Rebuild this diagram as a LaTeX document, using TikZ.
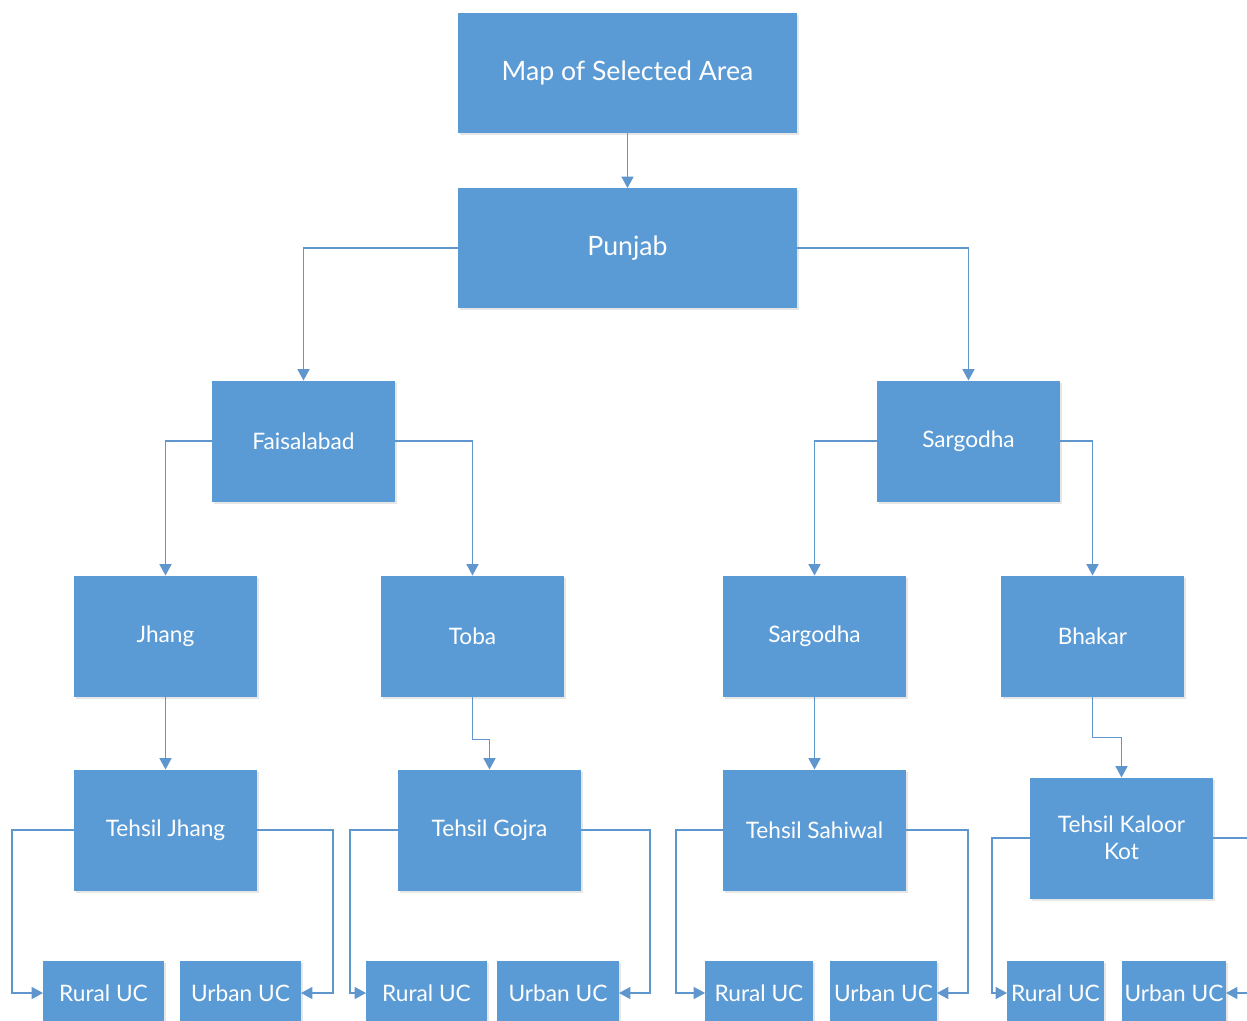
\documentclass[tikz,border=0pt]{standalone}
\usepackage{fontspec}
\setmainfont{Lato}
\usetikzlibrary{arrows.meta,shadows}

\definecolor{boxblue}{RGB}{91,155,213}
\definecolor{lineblue}{RGB}{95,150,205}

\tikzset{every picture/.style={line width=0.75pt}}

\begin{document}
\begin{tikzpicture}[x=0.75pt,y=0.75pt,yscale=-1,xscale=1,
  box/.style={fill=boxblue, text=white, inner sep=0pt, outer sep=0pt,
    align=center, font=\fontsize{17}{20}\selectfont,
    minimum width=137.25pt, minimum height=90.75pt,
    drop shadow={opacity=0.2, shadow xshift=1.5pt, shadow yshift=-1.5pt}},
  topbox/.style={box, minimum width=254.25pt, minimum height=90pt,
    font=\fontsize{20}{24}\selectfont},
  ucbox/.style={box, minimum height=48pt},
  link/.style={draw=lineblue, line width=1.1pt,
    -{Triangle[width=9pt,length=8.5pt]}}]
\useasboundingbox (0,0) rectangle (1247,1021);
\clip (0,0) rectangle (1247,1021);

% Top levels
\node[topbox] (map) at (627.5,73) {Map of Selected Area};
\node[topbox] (punjab) at (627.5,248) {Punjab};

% Divisions
\node[box] (fsd) at (303.5,441) {Faisalabad};
\node[box] (sgd) at (968.5,441) {Sargodha};

% Districts
\node[box] (jhang) at (165.5,636) {Jhang};
\node[box] (toba) at (472.5,636) {Toba};
\node[box] (sgdb) at (814.5,636) {Sargodha};
\node[box] (bhakar) at (1092.5,636) {Bhakar};

% Tehsils
\node[box] (tjhang) at (165.5,830) {Tehsil Jhang};
\node[box] (tgojra) at (489.5,830) {Tehsil Gojra};
\node[box] (tsahiwal) at (814.5,830) {Tehsil Sahiwal};
\node[box] (tkaloor) at (1121.5,838) {Tehsil Kaloor\\Kot};

% Union councils
\node[ucbox, minimum width=90.75pt] (rj) at (103.5,993) {Rural UC};
\node[ucbox, minimum width=90.75pt] (uj) at (240.5,993) {Urban UC};
\node[ucbox, minimum width=90.75pt] (rg) at (426.5,993) {Rural UC};
\node[ucbox, minimum width=91.5pt] (ug) at (558,993) {Urban UC};
\node[ucbox, minimum width=81pt] (rs) at (759,993) {Rural UC};
\node[ucbox, minimum width=80.25pt] (us) at (883.5,993) {Urban UC};
\node[ucbox, minimum width=72.75pt] (rk) at (1055.5,993) {Rural UC};
\node[ucbox, minimum width=78pt] (uk) at (1174,993) {Urban UC};

% Connectors
\draw[link] (map) -- (punjab);
\draw[link] (punjab.west) -| (fsd);
\draw[link] (punjab.east) -| (sgd);
\draw[link] (fsd.west) -| (jhang);
\draw[link] (fsd.east) -| (toba);
\draw[link] (sgd.west) -| (sgdb);
\draw[link] (sgd.east) -| (bhakar);
\draw[link] (jhang) -- (tjhang);
\draw[link] (toba.south) -- ++(0,43) -| (tgojra.north);
\draw[link] (sgdb) -- (tsahiwal);
\draw[link] (bhakar.south) -- ++(0,41) -| (tkaloor.north);
\draw[link] (tjhang.west) -- ++(-62,0) |- (rj.west);
\draw[link] (tjhang.east) -- ++(76,0) |- (uj.east);
\draw[link] (tgojra.west) -- ++(-48,0) |- (rg.west);
\draw[link] (tgojra.east) -- ++(69,0) |- (ug.east);
\draw[link] (tsahiwal.west) -- ++(-47,0) |- (rs.west);
\draw[link] (tsahiwal.east) -- ++(62,0) |- (us.east);
\draw[link] (tkaloor.west) -- ++(-38,0) |- (rk.west);
\draw[link] (tkaloor.east) -- ++(50,0) |- (uk.east);

\end{tikzpicture}
\end{document}
